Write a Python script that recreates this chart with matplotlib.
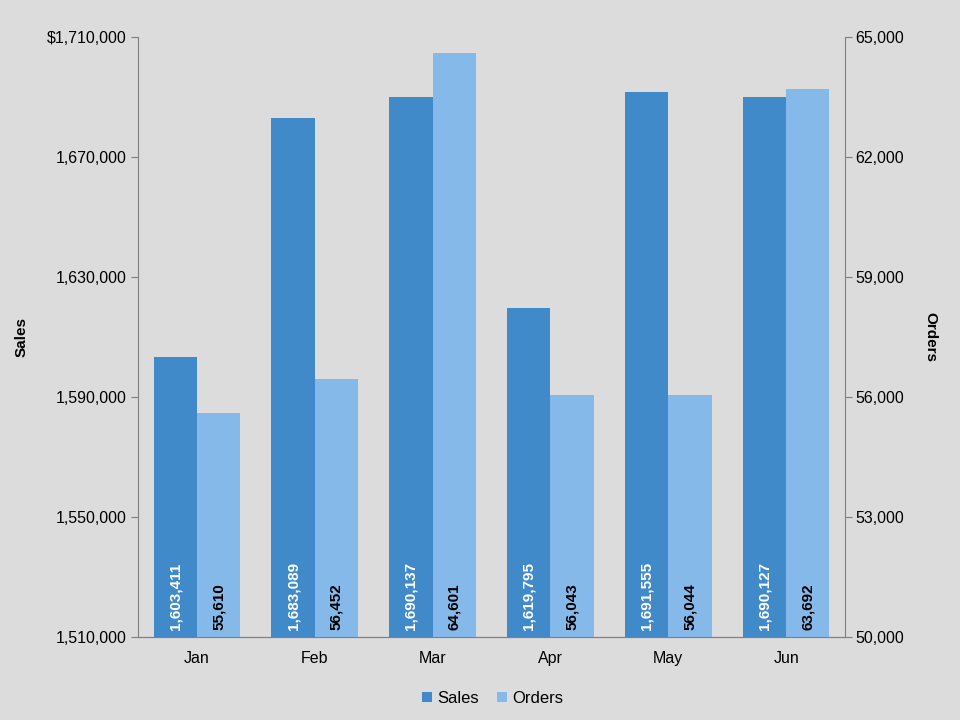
import matplotlib.pyplot as plt
import numpy as np
from matplotlib.ticker import FuncFormatter

plt.rcParams['font.family'] = ['Liberation Sans', 'DejaVu Sans']

months = ["Jan", "Feb", "Mar", "Apr", "May", "Jun"]
sales = [1603411, 1683089, 1690137, 1619795, 1691555, 1690127]
orders = [55610, 56452, 64601, 56043, 56044, 63692]

bg = "#dcdcdc"
c_sales = "#418aca"
c_orders = "#85b9ea"
gray = "#808080"

fig = plt.figure(figsize=(9.6, 7.2), dpi=100, facecolor=bg)
ax = fig.add_axes([0.14375, 0.1153, 0.7365, 0.8333], facecolor=bg)
ax2 = ax.twinx()

x = np.arange(len(months))
w = 0.368

b1 = ax.bar(x - w / 2, sales, w, color=c_sales, label="Sales", zorder=2)
b2 = ax2.bar(x + w / 2, orders, w, color=c_orders, label="Orders", zorder=2)

ax.set_xlim(-0.5, len(months) - 0.5)
ax.set_ylim(1510000, 1710000)
ax.set_yticks(np.arange(1510000, 1710001, 40000))
ax2.set_ylim(50000, 65000)
ax2.set_yticks(np.arange(50000, 65001, 3000))

ax.yaxis.set_major_formatter(FuncFormatter(
    lambda v, p: ("$" if v >= 1710000 else "") + f"{int(v):,}"))
ax2.yaxis.set_major_formatter(FuncFormatter(lambda v, p: f"{int(v):,}"))

ax.set_xticks(x)
ax.set_xticklabels(months)

for a in (ax, ax2):
    a.spines["top"].set_visible(False)
    for s in ("left", "right", "bottom"):
        a.spines[s].set_color(gray)
    a.tick_params(colors=gray, labelcolor="black", labelsize=11.5, length=5)
ax.tick_params(axis="x", length=0, pad=10)
ax2.tick_params(axis="y", pad=2.5)
ax2.spines["left"].set_visible(False)
ax.spines["right"].set_visible(False)

ax.set_ylabel("Sales", fontweight="bold", fontsize=11, labelpad=13)
ax2.set_ylabel("Orders", fontweight="bold", fontsize=11, rotation=-90, labelpad=24)

# labels at the bottom inside bars
for i in range(len(months)):
    ax.text(x[i] - w / 2, 1510000 + 2300, f"{sales[i]:,}", rotation=90,
            ha="center", va="bottom", color="white", fontweight="bold",
            fontsize=11, zorder=3)
    ax2.text(x[i] + w / 2, 50000 + 170, f"{orders[i]:,}", rotation=90,
             ha="center", va="bottom", color="black", fontweight="bold",
             fontsize=11, zorder=3)

fig.legend([b1, b2], ["Sales", "Orders"], loc="center", bbox_to_anchor=(0.513, 0.03),
           ncol=2, frameon=False, fontsize=12, handlelength=0.6, handleheight=0.6,
           handletextpad=0.3, columnspacing=1.1)

fig.savefig("out.png", dpi=100, facecolor=bg)
